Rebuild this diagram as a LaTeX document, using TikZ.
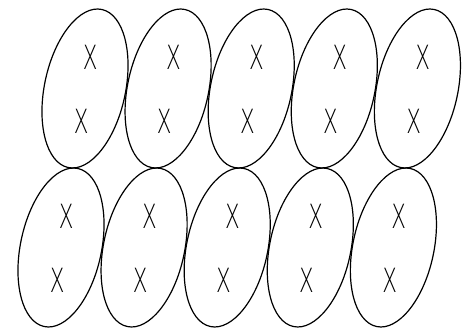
\documentclass[tikz,border=0pt]{standalone}
\usepackage{fontspec}
\newfontfamily\xfont{DejaVu Sans ExtraLight}
\usetikzlibrary{shapes.geometric}
\begin{document}
\begin{tikzpicture}[x=0.75pt,y=0.75pt,
  oval/.style={draw, line width=0.9pt, ellipse, inner sep=0pt,
    minimum width=60.75pt, minimum height=121.2pt, rotate=-12},
  xmark/.style={inner sep=0pt, font=\xfont\fontsize{25}{26}\selectfont, xscale=0.64}]
\useasboundingbox (0,0) rectangle (470,328);
\foreach \i in {0,...,4}{
  \pgfmathsetmacro{\cx}{85+83.1*\i}
  \node[oval] (t\i) at (\cx,239.5) {};
  \node[xmark] (tu\i) at ([shift={(5.3,31.5)}]t\i.center) {X};
  \node[xmark] (tl\i) at ([shift={(-3.8,-32.4)}]t\i.center) {X};
  \pgfmathsetmacro{\bx}{61+83.1*\i}
  \node[oval] (b\i) at (\bx,80.5) {};
  \node[xmark] (bu\i) at ([shift={(5.3,31.5)}]b\i.center) {X};
  \node[xmark] (bl\i) at ([shift={(-3.8,-32.4)}]b\i.center) {X};
}
\end{tikzpicture}
\end{document}
